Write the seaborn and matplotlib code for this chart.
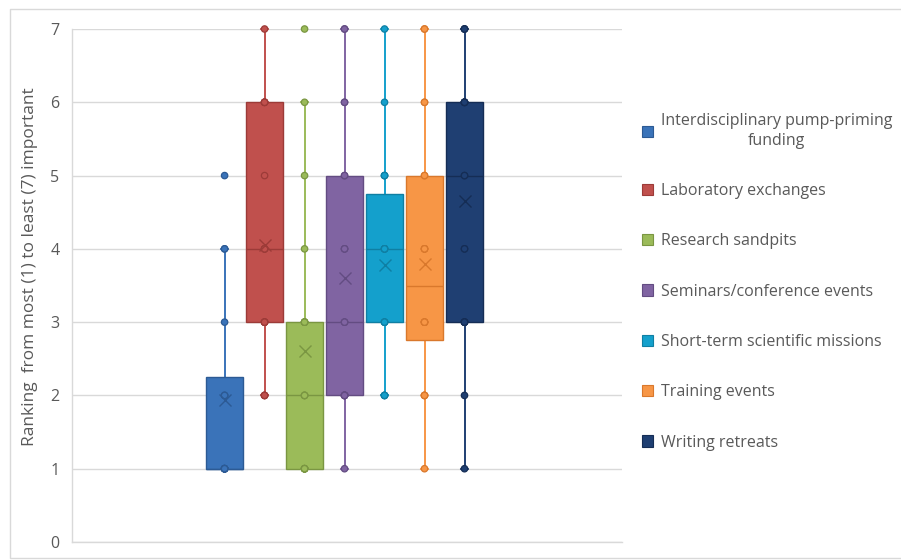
import numpy as np
import pandas as pd
import matplotlib
matplotlib.use("Agg")
import matplotlib.pyplot as plt
from matplotlib.patches import Patch
from matplotlib.lines import Line2D
import seaborn as sns

# ---------------- data ----------------
series = [
    "Interdisciplinary pump-priming funding",
    "Laboratory exchanges",
    "Research sandpits",
    "Seminars/conference events",
    "Short-term scientific missions",
    "Training events",
    "Writing retreats",
]

pump_priming = [1, 1, 1, 1, 1, 1, 1, 1, 1, 2, 2, 2, 3, 4, 4, 5]
lab_exchanges = [2, 2, 2, 2, 3, 3, 3, 3, 3, 4, 4, 4, 4, 5, 6, 6, 6, 6, 6, 7]
sandpits = [1, 1, 1, 1, 1, 1, 1, 2, 2, 2, 2, 3, 3, 3, 3, 3, 4, 5, 6, 7]
seminars = [1, 2, 2, 2, 2, 2, 2, 2, 3, 3, 3, 4, 4, 4, 5, 5, 6, 6, 7, 7]
stsm = [2, 2, 2, 2, 3, 3, 3, 3, 4, 4, 4, 4, 4, 5, 5, 5, 6, 7]
training = [1, 2, 2, 2, 2, 3, 3, 3, 3, 3, 4, 4, 4, 4, 5, 5, 6, 6, 7, 7]
retreats = [1, 2, 3, 3, 3, 3, 3, 4, 4, 5, 5, 6, 6, 6, 6, 6, 6, 7, 7, 7]

yticks = [0, 1, 2, 3, 4, 5, 6, 7]
ylabel = "Ranking  from most (1) to least (7) important"

fill_colors = ["#3A73B9", "#C0504D", "#9BBB59", "#8064A2", "#14A0CC", "#F79646", "#1F3F72"]
edge_colors = ["#2C5A94", "#9C3B38", "#7A9642", "#634C82", "#0F7FA3", "#D9782C", "#152D55"]

values = [pump_priming, lab_exchanges, sandpits, seminars, stsm, training, retreats]
df = pd.DataFrame({
    "group": ["all"] * sum(len(v) for v in values),
    "series": [s for s, v in zip(series, values) for _ in v],
    "rank": [x for v in values for x in v],
})

# ---------------- style ----------------
sns.set_theme(style="white")
plt.rcParams["font.family"] = ["Open Sans", "DejaVu Sans"]
grey_text = "#595959"
grid_col = "#D9D9D9"

fig, ax = plt.subplots(figsize=(9.01, 5.60), dpi=100)
fig.patch.set_facecolor("white")
fig.subplots_adjust(left=72 / 901, right=622 / 901, top=1 - 29 / 560, bottom=1 - 542 / 560)

sns.boxplot(
    data=df, x="group", y="rank", hue="series", hue_order=series,
    palette=fill_colors, width=0.8, gap=0.07, whis=1.5,
    showmeans=True, showfliers=False, linewidth=1.0, legend=False, ax=ax,
    meanprops=dict(marker="x", markersize=8, markeredgewidth=1.0),
)

for cont, fc, ec in zip(ax.containers, fill_colors, edge_colors):
    for b in cont.boxes:
        b.set_facecolor(fc)
        b.set_edgecolor(ec)
        b.set_linewidth(1.0)
        b.set_zorder(2)
    for w in cont.whiskers:
        w.set_color(fc)
        w.set_linewidth(1.4)
        w.set_zorder(1.5)
        w.set_clip_on(False)
    for c in cont.caps:
        c.set_color(fc)
        c.set_linewidth(1.6)
        c.set_clip_on(False)
        xd = np.asarray(c.get_xdata(), dtype=float)
        cx = xd.mean()
        c.set_xdata([cx - 0.011, cx + 0.011])
    for m in cont.medians:
        m.set_color(ec)
        m.set_linewidth(1.0)
        m.set_zorder(3)
    for m in getattr(cont, "means", []):
        m.set_markeredgecolor(ec)
        m.set_markerfacecolor(ec)
        m.set_zorder(5)

n_before = len(ax.collections)
sns.stripplot(
    data=df, x="group", y="rank", hue="series", hue_order=series,
    palette=fill_colors, dodge=True, jitter=False, size=4.6,
    linewidth=0.9, legend=False, ax=ax, zorder=4,
)
for coll, ec in zip(ax.collections[n_before:], edge_colors):
    coll.set_edgecolor(ec)
    coll.set_zorder(4)
    coll.set_clip_on(False)

# ---------------- axes ----------------
ax.set_ylim(yticks[0], yticks[-1])
ax.set_yticks(yticks)
ax.set_yticklabels([str(t) for t in yticks])
ax.set_xlim(-0.779, 0.793)
ax.set_xticks([])
ax.set_xlabel("")
ax.set_facecolor("white")
ax.yaxis.grid(True, color=grid_col, linewidth=1.0)
ax.set_axisbelow(True)
for side in ["top", "right"]:
    ax.spines[side].set_visible(False)
ax.spines["left"].set_color(grid_col)
ax.spines["bottom"].set_color(grid_col)
ax.spines["left"].set_linewidth(1.0)
ax.spines["bottom"].set_linewidth(1.0)
ax.tick_params(axis="y", length=0, pad=9, labelsize=11.5, labelcolor=grey_text)
ax.set_ylabel(ylabel, fontsize=12.5, color=grey_text)
ax.yaxis.set_label_coords(-(72 - 38) / 550, (542 - 267) / 513)

# outer chart border (open on the right, like the cropped reference)
fig.add_artist(Line2D([1.0, 10 / 901, 10 / 901, 1.0],
                      [1 - 9 / 560, 1 - 9 / 560, 2 / 560, 2 / 560],
                      transform=fig.transFigure, color=grid_col, linewidth=1.0))

# ---------------- legend ----------------
handles = [Patch(facecolor=fc, edgecolor=ec, linewidth=0.8) for fc, ec in zip(fill_colors, edge_colors)]
labels = [s.replace("pump-priming ", "pump-priming\n") for s in series]
leg = fig.legend(
    handles, labels, loc="upper left", bbox_to_anchor=(642 / 901, 1 - 113 / 560),
    frameon=False, fontsize=11.5, labelcolor=grey_text,
    handlelength=0.7, handleheight=0.7, handletextpad=0.5,
    labelspacing=2.15, borderpad=0, borderaxespad=0,
)
for t in leg.get_texts():
    t.set_multialignment("center")
    t.set_linespacing(1.3)

fig.savefig("out.png", dpi=100, facecolor="white")
